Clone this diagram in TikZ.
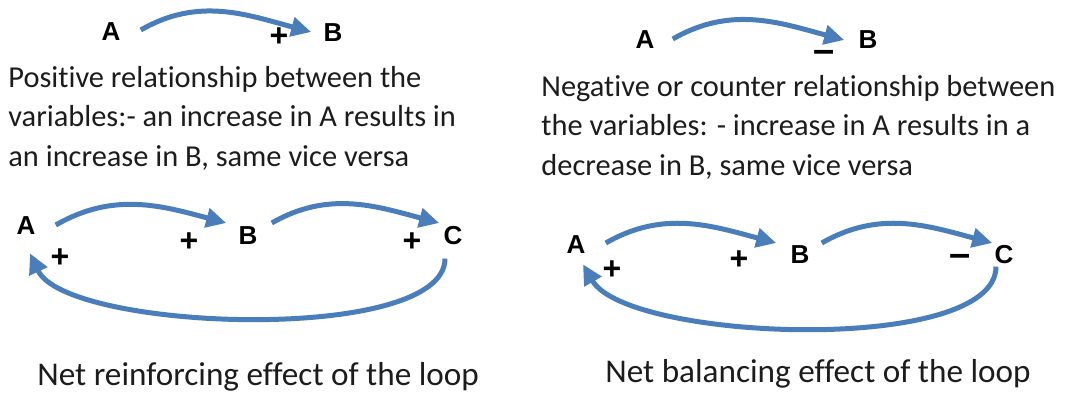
\documentclass[tikz,border=0pt]{standalone}
\usepackage{fontspec}
\setmainfont{Carlito}[Ligatures=NoCommon]
\newfontfamily\letterfont{Liberation Sans}
\usetikzlibrary{arrows.meta}
\definecolor{loopblue}{RGB}{74,126,187}
\definecolor{ink}{RGB}{28,28,28}
\tikzset{
  link/.style={line width=2.5pt,loopblue,-{Triangle[length=10pt,width=9.5pt]}},
  var/.style={font=\letterfont\bfseries\fontsize{13}{13}\selectfont,inner sep=0pt},
  sign/.style={font=\letterfont\bfseries\fontsize{16}{16}\selectfont,inner sep=0pt},
  minus/.style={font=\letterfont\bfseries\fontsize{19}{19}\selectfont,inner sep=0pt},
  caption/.style={font=\fontsize{15.2}{19.6}\selectfont,align=left,inner sep=0pt,
    anchor=base west,text=ink},
  loopnote/.style={caption,font=\fontsize{16.6}{20}\selectfont}
}
\begin{document}
\begin{tikzpicture}[x=0.5pt,y=-0.5pt]
  \useasboundingbox (0,0) rectangle (1066,392);
  % positive link
  \node[var] (a1) at (111,32) {A};
  \node[var] (b1) at (333,33) {B};
  \node[sign] (p1) at (279,37) {+};
  \draw[link] ([xshift=10pt,yshift=1pt]a1.east) to[out=30,in=165] ([xshift=-6pt,yshift=0.5pt]b1.west);
  \node[caption] (t1) at (8,166) {Positive relationship between the\\variables:- an increase in A results in\\an increase in B, same vice versa};
  % negative link
  \node[var] (a2) at (645,40) {A};
  \node[var] (b2) at (868,40) {B};
  \node[minus] (m2) at (824,56) {–};
  \draw[link] ([xshift=9pt,yshift=0.5pt]a2.east) to[out=30,in=165] ([xshift=-7pt]b2.west);
  \node[caption] (t2) at (541,175) {Negative or counter relationship between\\the variables: - increase in A results in a\\decrease in B, same vice versa};
  % reinforcing loop
  \node[var] (a3) at (26,226) {A};
  \node[var] (b3) at (248,236) {B};
  \node[var] (c3) at (453,236) {C};
  \node[sign] (p3a) at (60,258) {+};
  \node[sign] (p3b) at (189,242) {+};
  \node[sign] (p3c) at (412,242) {+};
  \draw[link] ([xshift=10pt,yshift=0.5pt]a3.east) to[out=30,in=165] ([xshift=-6pt,yshift=6.5pt]b3.west);
  \draw[link] ([xshift=7pt,yshift=6.5pt]b3.east) to[out=30,in=165] ([xshift=-2pt,yshift=6.5pt]c3.west);
  \draw[link] ([xshift=-4pt,yshift=-6.5pt]c3.south) to[out=-90,in=-65,looseness=0.53] ([xshift=2pt,yshift=-9pt]a3.south);
  \node[loopnote] (n1) at (37,385) {Net reinforcing effect of the loop};
  % balancing loop
  \node[var] (a4) at (576,245) {A};
  \node[var] (b4) at (800,255) {B};
  \node[var] (c4) at (1004,255) {C};
  \node[sign] (p4a) at (612,270) {+};
  \node[sign] (p4b) at (739,260) {+};
  \node[minus] (m4c) at (960,260) {–};
  \draw[link] ([xshift=10pt,yshift=1pt]a4.east) to[out=30,in=165] ([xshift=-7pt,yshift=6pt]b4.west);
  \draw[link] ([xshift=6pt,yshift=6pt]b4.east) to[out=30,in=165] ([xshift=-1pt,yshift=6pt]c4.west);
  \draw[link] ([xshift=-4pt,yshift=-1pt]c4.south) to[out=-90,in=-60,looseness=0.55] ([xshift=3.5pt,yshift=-5pt]a4.south);
  \node[loopnote] (n2) at (605,382) {Net balancing effect of the loop};
\end{tikzpicture}
\end{document}
